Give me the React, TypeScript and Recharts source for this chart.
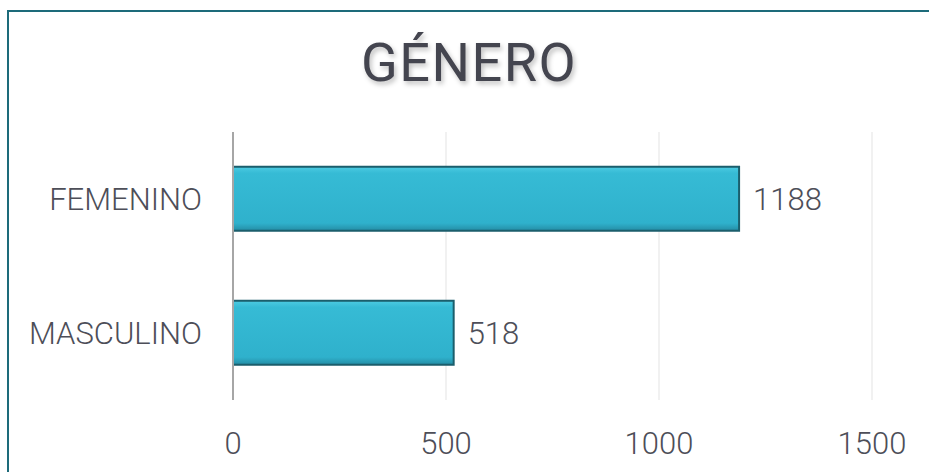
import React from 'react';
import {
  BarChart,
  Bar,
  XAxis,
  YAxis,
  CartesianGrid,
  LabelList,
} from 'recharts';

const categories = ['FEMENINO', 'MASCULINO'];
const values = [1188, 518];
const xTicks = [0, 500, 1000, 1500];

const data = categories.map((name, i) => ({ name, value: values[i] }));

const TEXT = '#44454f';
const LABEL = '#4d4e58';
const FONT = '"Roboto Light", Roboto, "Noto Sans", sans-serif';

export default function App() {
  return (
    <div
      style={{
        position: 'absolute',
        left: 0,
        top: 0,
        width: 929,
        height: 472,
        background: '#ffffff',
        overflow: 'hidden',
        fontFamily: 'Roboto, sans-serif',
      }}
    >
      {/* frame, runs off the right and bottom edges */}
      <div
        style={{
          position: 'absolute',
          left: 7,
          top: 10,
          width: 940,
          height: 480,
          border: '2px solid #1d6b7a',
          boxSizing: 'border-box',
        }}
      />
      <div
        style={{
          position: 'absolute',
          left: 0,
          top: 28,
          width: 938,
          textAlign: 'center',
          fontSize: 54,
          fontWeight: 400,
          color: TEXT,
          letterSpacing: 1.5,
          textShadow: '2px 3px 5px rgba(0,0,0,0.25)',
          lineHeight: '70px',
        }}
      >
        GÉNERO
      </div>
      <div style={{ position: 'absolute', left: 0, top: 0 }}>
        <BarChart
          width={929}
          height={472}
          data={data}
          layout="vertical"
          margin={{ top: 132, right: 57, left: 0, bottom: 0 }}
          barCategoryGap="26%"
        >
          <defs>
            <linearGradient id="barFill" x1="0" y1="0" x2="0" y2="1">
              <stop offset="0%" stopColor="#4ccbe2" />
              <stop offset="10%" stopColor="#36bbd5" />
              <stop offset="88%" stopColor="#2fb1cc" />
              <stop offset="100%" stopColor="#248ca4" />
            </linearGradient>
          </defs>
          <CartesianGrid horizontal={false} stroke="#e3e3e3" strokeWidth={1} />
          <XAxis
            type="number"
            domain={[0, 1500]}
            ticks={xTicks}
            axisLine={false}
            tickLine={false}
            tickSize={0}
            tickMargin={32}
            height={72}
            tick={{ fill: LABEL, fontSize: 31, fontWeight: 300, fontFamily: FONT }}
          />
          <YAxis
            type="category"
            dataKey="name"
            width={233}
            axisLine={{ stroke: '#a6a6a6', strokeWidth: 2 }}
            tickLine={false}
            tickSize={0}
            tickMargin={31}
            tick={{ fill: LABEL, fontSize: 31, fontWeight: 300, fontFamily: FONT }}
          />
          <Bar
            dataKey="value"
            fill="url(#barFill)"
            stroke="#1b5e6c"
            strokeWidth={2}
            isAnimationActive={false}
          >
            <LabelList
              dataKey="value"
              position="right"
              offset={14}
              fill={LABEL}
              fontSize={31}
              fontWeight={300}
              fontFamily={FONT}
            />
          </Bar>
        </BarChart>
      </div>
    </div>
  );
}
